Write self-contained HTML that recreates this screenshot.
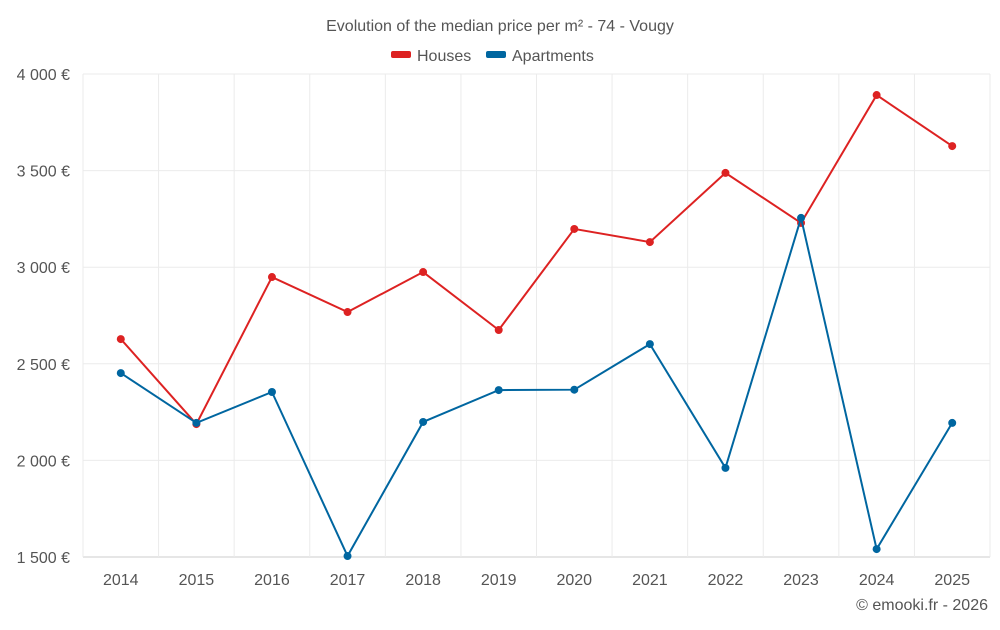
<!DOCTYPE html>
<html><head><meta charset="utf-8"><style>
body{margin:0;background:#fff;font-family:"Liberation Sans",sans-serif;}
svg text{font-family:"Liberation Sans",sans-serif;fill:#555;}
</style></head><body>
<svg id="chart" width="1000" height="625">
<text x="500" y="31" text-anchor="middle" font-size="16">Evolution of the median price per m² - 74 - Vougy</text>
<g>
<g><rect x="391" y="51" width="20" height="7" rx="2" fill="#dd2222"/><text x="417" y="61" font-size="16">Houses</text></g>
<g><rect x="486" y="51" width="20" height="7" rx="2" fill="#0066a0"/><text x="512" y="61" font-size="16">Apartments</text></g>
</g>
<g id="grid"></g><g id="axes"></g><g id="series"></g>
<text x="988" y="610" text-anchor="end" font-size="16">© emooki.fr - 2026</text>
</svg>
<script>
const years=[2014,2015,2016,2017,2018,2019,2020,2021,2022,2023,2024,2025];
const houses=[2628,2188,2949,2768,2975,2675,3198,3130,3488,3229,3891,3627];
const apartments=[2452,2194,2354,1505,2199,2364,2366,2602,1961,3255,1541,2194];
const yTicks=[1500,2000,2500,3000,3500,4000];
const yTickLabels=["1 500 €","2 000 €","2 500 €","3 000 €","3 500 €","4 000 €"];
const NS="http://www.w3.org/2000/svg";
const L=83,R=990,T=74,B=557,yMin=1500,yMax=4000;
const step=(R-L)/years.length;
const x=i=>L+step*(i+0.5);
const y=v=>B-(v-yMin)/(yMax-yMin)*(B-T);
function mk(tag,attrs,parent){const e=document.createElementNS(NS,tag);for(const k in attrs)e.setAttribute(k,attrs[k]);document.getElementById(parent).appendChild(e);return e;}
yTicks.forEach((t,i)=>{
 const g=mk('line',{x1:L,x2:R,y1:y(t),y2:y(t),stroke:i===0?'#ccc':'#ebebeb','stroke-width':1},'grid');
 
 
 const tx=mk('text',{x:70,y:y(t)+6,'text-anchor':'end','font-size':16},'axes');
 tx.textContent=yTickLabels[i];
 
 
});
for(let i=0;i<=years.length;i++){
 const g=mk('line',{x1:L+step*i,x2:L+step*i,y1:T,y2:B,stroke:'#ebebeb'},'grid');
 
 
}
years.forEach((yr,i)=>{
 const tx=mk('text',{x:x(i),y:585,'text-anchor':'middle','font-size':16},'axes');
 tx.textContent=yr;
 
 
});
function series(vals,color,name){
 const p=mk('polyline',{points:vals.map((v,i)=>x(i)+','+y(v)).join(' '),fill:'none',stroke:color,'stroke-width':2},'series');
 
 
 vals.forEach((v,i)=>{
  const c=mk('circle',{cx:x(i),cy:y(v),r:4,fill:color},'series');
  
  
 });
}
series(houses,'#dd2222','houses');
series(apartments,'#0066a0','apartments');
</script>
</body></html>
